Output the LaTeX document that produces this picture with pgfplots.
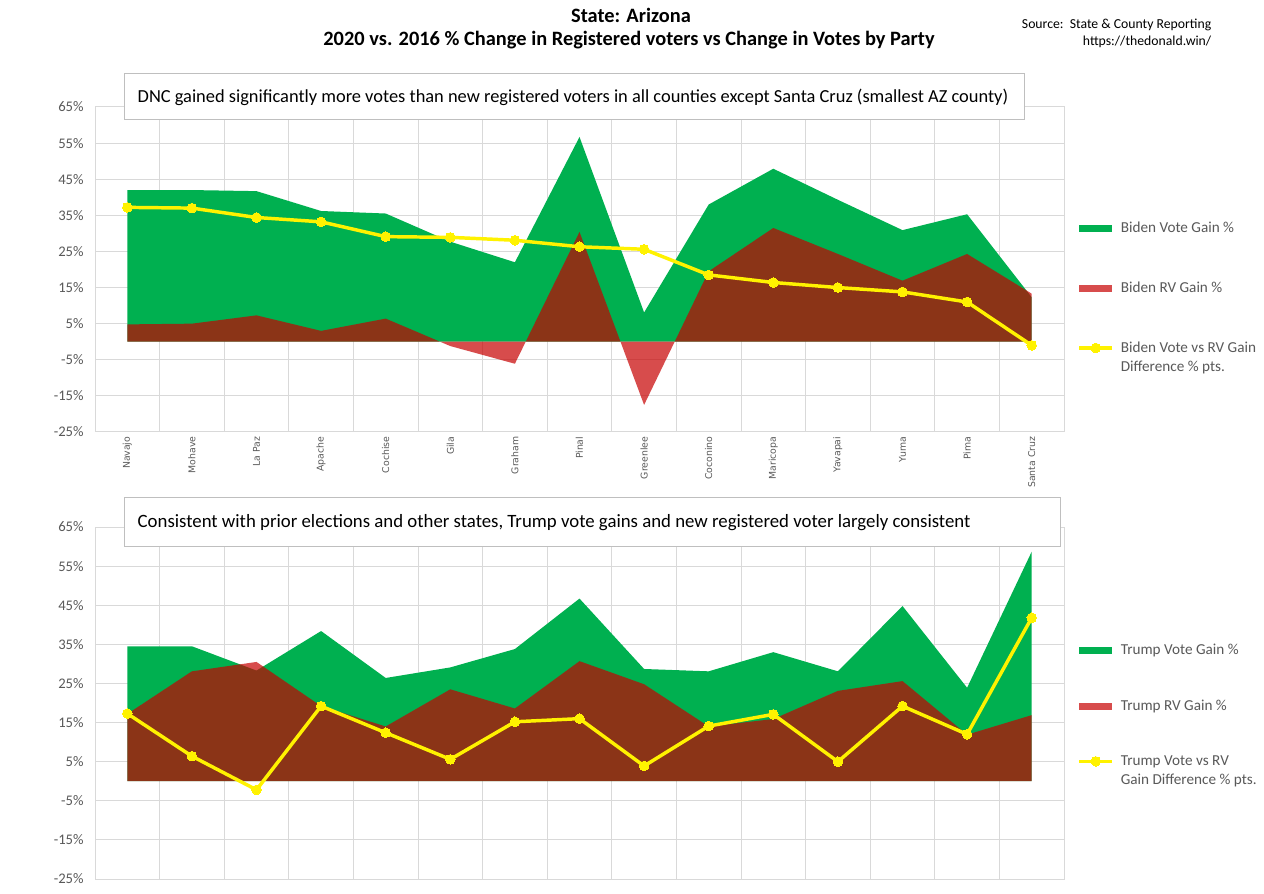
\documentclass[border=0pt]{standalone}
\usepackage{fontspec}
\setmainfont{Carlito}
\newfontfamily\dejavu{DejaVu Sans}
\usepackage{pgfplots}
\usepackage{pgfplotstable}
\pgfplotsset{compat=1.18}

\definecolor{vgreen}{HTML}{00B050}
\definecolor{rvred}{HTML}{C70000}
\definecolor{diffyel}{HTML}{FFF200}
\definecolor{gridgray}{HTML}{D9D9D9}
\definecolor{labgray}{HTML}{595959}
\definecolor{boxgray}{HTML}{BFBFBF}

% Biden: vote gain %, registered voter gain %, difference (pts)
\pgfplotstableread{
idx vote rv diff
0  42.0   4.8  37.2
1  42.0   5.0  37.0
2  41.7   7.3  34.4
3  36.2   3.0  33.2
4  35.5   6.4  29.1
5  27.7  -1.2  28.9
6  22.0  -6.1  28.1
7  56.7  30.4  26.3
8   8.1 -17.5  25.6
9  38.0  19.5  18.5
10 47.9  31.5  16.4
11 39.3  24.3  15.0
12 30.9  16.9  13.8
13 35.3  24.3  11.0
14 12.3  13.3  -1.0
}\bidendata

% Trump: vote gain %, registered voter gain %, difference (pts)
\pgfplotstableread{
idx vote rv diff
0  34.5  17.2  17.3
1  34.5  28.1   6.4
2  28.3  30.5  -2.2
3  38.4  19.2  19.2
4  26.4  14.0  12.4
5  29.1  23.5   5.6
6  33.8  18.6  15.2
7  46.7  30.7  16.0
8  28.7  24.8   3.9
9  28.1  14.0  14.1
10 33.0  15.9  17.1
11 28.1  23.1   5.0
12 44.8  25.6  19.2
13 23.9  11.9  12.0
14 58.7  16.9  41.8
}\trumpdata

\pgfplotsset{
  panel/.style={
    scale only axis, width=726.75pt,
    xmin=-0.5, xmax=14.5, ymin=-25, ymax=65,
    ytick={-25,-15,...,65},
    yticklabel={\pgfmathprintnumber[assume math mode=true]{\tick}\%},
    yticklabel style={font=\fontsize{11}{12}\selectfont, text=labgray, xshift=-5pt},
    xtick={0,...,14},
    minor xtick={-0.5,0.5,...,14.5},
    xminorgrids, ymajorgrids,
    grid style={gridgray, line width=0.75pt},
    minor grid style={gridgray, line width=0.75pt},
    axis line style={gridgray, line width=0.75pt},
    major tick length=0pt, minor tick length=0pt,
    legend cell align=left,
    legend style={draw=none, fill=none, inner sep=0pt, anchor=north west,
      font=\fontsize{11.4}{14.3}\selectfont, text=labgray,
      nodes={align=left},
      /tikz/every odd column/.append style={column sep=3pt}},
  },
  arealeg/.style={legend image code/.code={\fill[##1] (0pt,-2.6pt) rectangle (25pt,2.6pt);}},
  lineleg/.style={legend image code/.code={\draw[##1, yshift=7.1pt, mark repeat=2, mark phase=2]
      plot coordinates {(0pt,0pt) (12.5pt,0pt) (25pt,0pt)};}},
  diffline/.style={diffyel, line width=2.6pt, mark=*, mark size=3.6pt,
      mark options={fill=diffyel, draw=diffyel, line width=0pt}, lineleg},
}

\begin{document}
\begin{tikzpicture}
\begin{scope}[x=0.75pt, y=0.75pt]
  \path[use as bounding box, fill=white] (0,0) rectangle (1264,893);
\end{scope}

% top panel: Biden
\begin{axis}[panel, at={(71.25pt,345.75pt)}, anchor=south west, height=243.75pt,
    xticklabels={Navajo,Mohave,La Paz,Apache,Cochise,Gila,Graham,Pinal,Greenlee,Coconino,Maricopa,Yavapai,Yuma,Pima,Santa Cruz},
    xticklabel style={rotate=90, anchor=east, font=\dejavu\fontsize{7}{8}\selectfont, text=labgray},
    legend style={at={(1.0135,0.654)}, row sep=31.3pt}]
  \addplot[draw=none, fill=vgreen, arealeg] table[x=idx, y=vote] {\bidendata} \closedcycle;
  \addlegendentry{Biden Vote Gain \%}
  \addplot[draw=none, fill=rvred, fill opacity=0.7, arealeg] table[x=idx, y=rv] {\bidendata} \closedcycle;
  \addlegendentry{Biden RV Gain \%}
  \addplot[diffline] table[x=idx, y=diff] {\bidendata};
  \addlegendentry{Biden Vote vs RV Gain\\Difference \% pts.}
\end{axis}

% bottom panel: Trump
\begin{axis}[panel, at={(71.25pt,10.5pt)}, anchor=south west, height=264pt,
    xticklabels={},
    legend style={at={(1.0135,0.675)}, row sep=28.3pt}]
  \addplot[draw=none, fill=vgreen, arealeg] table[x=idx, y=vote] {\trumpdata} \closedcycle;
  \addlegendentry{Trump Vote Gain \%}
  \addplot[draw=none, fill=rvred, fill opacity=0.7, arealeg] table[x=idx, y=rv] {\trumpdata} \closedcycle;
  \addlegendentry{Trump RV Gain \%}
  \addplot[diffline] table[x=idx, y=diff] {\trumpdata};
  \addlegendentry{Trump Vote vs RV\\Gain Difference \% pts.}
\end{axis}

\begin{scope}[x=0.75pt, y=0.75pt]
  \node[font=\bfseries\fontsize{15.3}{18}\selectfont] at (631,878) {State: Arizona};
  \node[font=\bfseries\fontsize{15.3}{18}\selectfont] at (629,853) {2020 vs. 2016 \% Change in Registered voters vs Change in Votes by Party};
  \node[anchor=east, font=\fontsize{10.3}{12}\selectfont] at (1216,868) {Source:\ \ State \& County Reporting};
  \node[anchor=east, font=\fontsize{10.3}{12}\selectfont] at (1216,851) {https://thedonald.win/};

  \draw[boxgray, fill=white, line width=0.75pt] (124,819) rectangle (1024,773);
  \node[anchor=west, font=\fontsize{13.8}{16}\selectfont] at (133,796) {DNC gained significantly more votes than new registered voters in all counties except Santa Cruz (smallest AZ county)};
  \draw[boxgray, fill=white, line width=0.75pt] (124,395) rectangle (1060,346);
  \node[anchor=west, font=\fontsize{14.1}{16}\selectfont] at (133,370) {Consistent with prior elections and other states, Trump vote gains and new registered voter largely consistent};
\end{scope}
\end{tikzpicture}
\end{document}
